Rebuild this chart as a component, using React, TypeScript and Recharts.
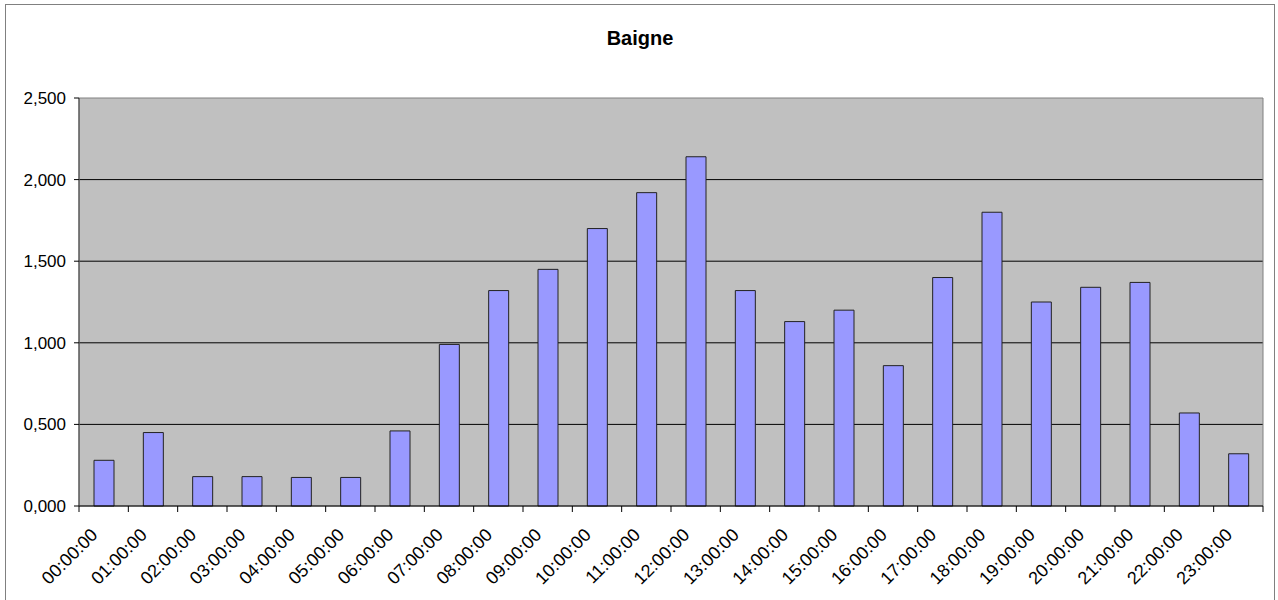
import { BarChart, Bar, XAxis, YAxis, CartesianGrid, ReferenceArea } from 'recharts';

const hours = [
  '00:00:00', '01:00:00', '02:00:00', '03:00:00', '04:00:00', '05:00:00',
  '06:00:00', '07:00:00', '08:00:00', '09:00:00', '10:00:00', '11:00:00',
  '12:00:00', '13:00:00', '14:00:00', '15:00:00', '16:00:00', '17:00:00',
  '18:00:00', '19:00:00', '20:00:00', '21:00:00', '22:00:00', '23:00:00',
];

const values = [
  0.28, 0.45, 0.18, 0.18, 0.175, 0.175, 0.46, 0.99, 1.32, 1.45, 1.70, 1.92,
  2.14, 1.32, 1.13, 1.20, 0.86, 1.40, 1.80, 1.25, 1.34, 1.37, 0.57, 0.32,
];

const yTicks = [0, 0.5, 1, 1.5, 2, 2.5];

const data = hours.map((h, i) => ({ hour: h, value: values[i] }));

const CHART_W = 1278;
const CHART_H = 600;
const MARGIN = { top: 98, right: 15, bottom: 8, left: 16 };
const Y_W = 63;
const PLOT_W = CHART_W - MARGIN.left - MARGIN.right - Y_W;
const BAND = PLOT_W / hours.length;

const fmt = (v: number) => v.toFixed(3).replace('.', ',');

function HourTick(props: any) {
  const { x, y, payload, index } = props;
  const left = x - BAND / 2;
  const ax = x - 5;
  const ay = y + 22;
  return (
    <g>
      <line x1={left} y1={y - 8} x2={left} y2={y - 2} stroke="#000" />
      {index === hours.length - 1 && (
        <line x1={x + BAND / 2} y1={y - 8} x2={x + BAND / 2} y2={y - 2} stroke="#000" />
      )}
      <text
        x={ax}
        y={ay}
        textAnchor="end"
        transform={`rotate(-45, ${ax}, ${ay})`}
        fontSize={18}
        fill="#000"
        fontFamily="Liberation Sans, Arial, sans-serif"
      >
        {payload.value}
      </text>
    </g>
  );
}

export default function App() {
  return (
    <div style={{ position: 'absolute', left: 0, top: 0, width: CHART_W, height: CHART_H, background: '#fff' }}>
      <div
        style={{
          position: 'absolute',
          left: 5,
          top: 4,
          width: 1270,
          height: 620,
          border: '1px solid #808080',
          boxSizing: 'border-box',
        }}
      />
      <div
        style={{
          position: 'absolute',
          left: 0,
          top: 27,
          width: 1280,
          textAlign: 'center',
          fontFamily: 'Liberation Sans, Arial, sans-serif',
          fontWeight: 'bold',
          fontSize: 20,
        }}
      >
        Baigne
      </div>
      <BarChart
        width={CHART_W}
        height={CHART_H}
        data={data}
        margin={MARGIN}
        style={{ position: 'absolute', left: 0, top: 0 }}
      >
        <CartesianGrid
          vertical={false}
          stroke="#000"
          fill="#c0c0c0"
          fillOpacity={1}
          horizontalValues={[0.5, 1, 1.5, 2]}
        />
        <ReferenceArea y1={0} y2={2.5} fill="none" stroke="#808080" ifOverflow="visible" />
        <XAxis
          dataKey="hour"
          interval={0}
          tickLine={false}
          axisLine={{ stroke: '#000' }}
          height={86}
          tick={<HourTick />}
        />
        <YAxis
          width={Y_W}
          domain={[0, 2.5]}
          ticks={yTicks}
          tickFormatter={fmt}
          axisLine={{ stroke: '#404040' }}
          tickLine={{ stroke: '#000' }}
          tickSize={5}
          tick={{ fill: '#000', fontSize: 17, dx: -6, fontFamily: 'Liberation Sans, Arial, sans-serif' }}
        />
        <Bar
          dataKey="value"
          fill="#9999ff"
          stroke="#222"
          strokeWidth={1}
          barSize={20}
          isAnimationActive={false}
        />
      </BarChart>
    </div>
  );
}
